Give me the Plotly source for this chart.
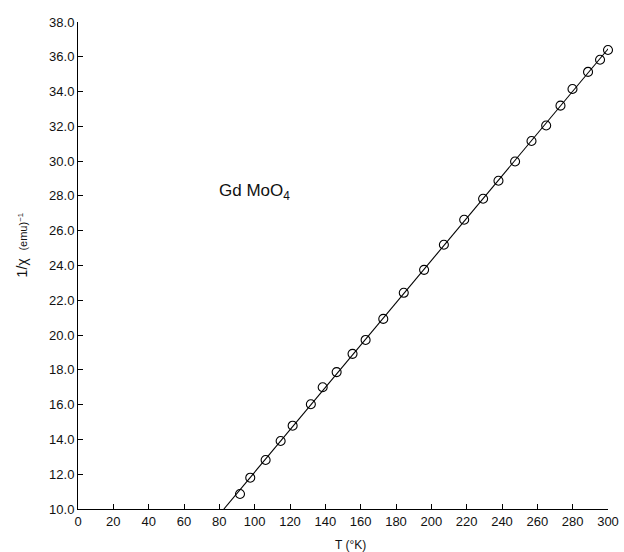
import numpy as np
import plotly.graph_objects as go

# Temperature (K) and inverse susceptibility (emu)^-1
T = [91.7, 97.5, 106.2, 114.7, 121.5, 131.8, 138.5, 146.4, 155.4, 162.8,
     172.8, 184.4, 195.9, 207.1, 218.6, 229.3, 238.0, 247.4, 256.7, 265.0,
     273.1, 279.9, 288.7, 295.5, 300.0]
inv_chi = [10.86, 11.80, 12.82, 13.91, 14.79, 16.02, 17.00, 17.87, 18.92, 19.72,
           20.93, 22.43, 23.75, 25.19, 26.63, 27.84, 28.87, 29.98, 31.16, 32.05,
           33.19, 34.15, 35.13, 35.83, 36.39]

x_ticks = list(range(0, 301, 20))
y_ticks = [10 + 2 * i for i in range(15)]
y_tick_labels = [f"{v:.1f}" for v in y_ticks]

# Curie-Weiss straight-line fit through the data
slope, icpt = np.polyfit(T, inv_chi, 1)
t0 = (10.0 - icpt) / slope
line_T = [t0, 301.5]
line_y = [icpt + slope * t for t in line_T]

FONT = "Liberation Sans"
fig = go.Figure()
fig.add_trace(go.Scatter(x=line_T, y=line_y, mode="lines",
                         line=dict(color="black", width=1.1),
                         showlegend=False, hoverinfo="skip", cliponaxis=False))
fig.add_trace(go.Scatter(x=T, y=inv_chi, mode="markers",
                         marker=dict(symbol="circle-open", size=9,
                                     color="black", line=dict(width=1.1)),
                         showlegend=False, cliponaxis=False))

fig.update_layout(
    width=624, height=552,
    margin=dict(l=78, r=16, t=22, b=43, autoexpand=False),
    paper_bgcolor="white", plot_bgcolor="white",
    font=dict(family=FONT, size=13, color="#111"),
    xaxis=dict(range=[0, 300], tickvals=x_ticks, ticks="inside", ticklen=5,
               tickcolor="black", showline=True, linecolor="black", linewidth=1,
               showgrid=False, zeroline=False, tickfont=dict(size=13),
               automargin=False),
    yaxis=dict(range=[10, 38], tickvals=y_ticks, ticktext=y_tick_labels,
               ticks="inside", ticklen=5, tickcolor="black", showline=True,
               linecolor="black", linewidth=1, showgrid=False, zeroline=False,
               tickfont=dict(size=13), automargin=False),
    annotations=[
        dict(x=78.5, y=28.2, xref="x", yref="y", xanchor="left", yanchor="middle",
             text="Gd MoO<sub>4</sub>", showarrow=False,
             font=dict(family=FONT, size=17, color="#111")),
        dict(x=0.481, y=-0.074, xref="paper", yref="paper", xanchor="left",
             yanchor="middle", text="T (°K)", showarrow=False,
             font=dict(family=FONT, size=12, color="#111")),
        dict(x=-0.105, y=0.542, xref="paper", yref="paper", textangle=-90,
             xanchor="center", yanchor="middle",
             text="1/χ  <span style='font-size:11px'>(emu)<sup>−1</sup></span>",
             showarrow=False, font=dict(family=FONT, size=14, color="#111")),
    ],
)

fig.write_html("out.html")
